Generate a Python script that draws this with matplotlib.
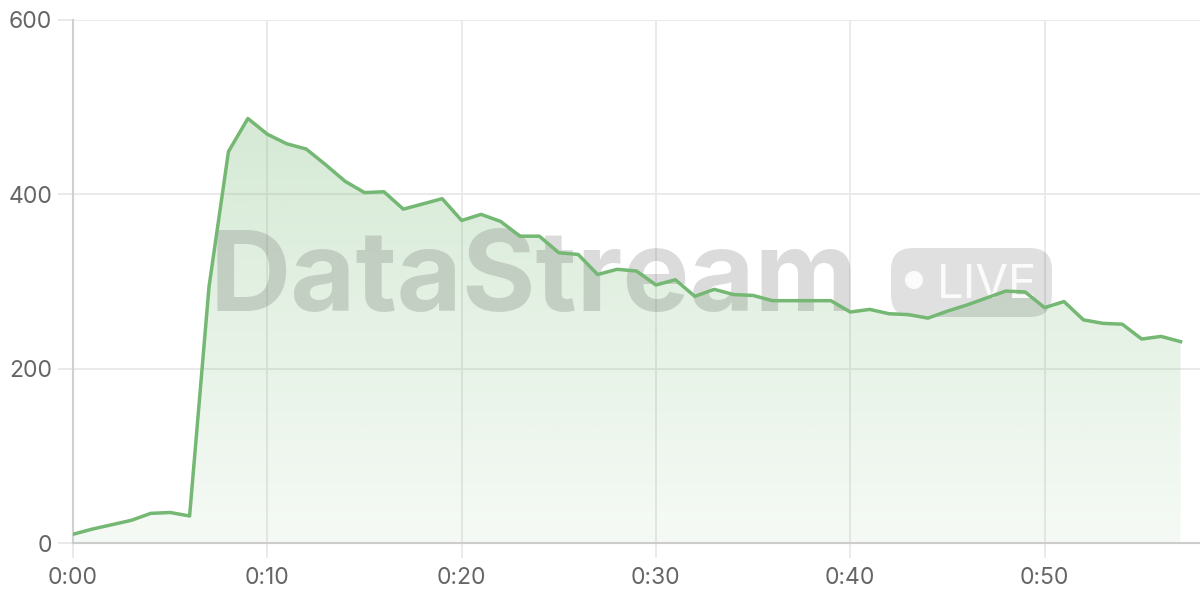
import matplotlib
matplotlib.use("Agg")
import matplotlib.pyplot as plt
import numpy as np
from matplotlib.patches import FancyBboxPatch, Circle
from matplotlib.transforms import IdentityTransform
from matplotlib.colors import to_rgb

minutes = list(range(0, 58))
values = [10, 16, 21, 26, 34, 35, 31, 294, 449, 487,
          469, 458, 452, 434, 415, 402, 403, 383, 389, 395,
          370, 377, 369, 352, 352, 333, 331, 308, 314, 312,
          296, 302, 283, 291, 285, 284, 278, 278, 278, 278,
          265, 268, 263, 262, 258, 266, 273, 281, 289, 288,
          270, 277, 256, 252, 251, 234, 237, 231]
x_ticks = [0, 10, 20, 30, 40, 50]
x_tick_labels = ["0:00", "0:10", "0:20", "0:30", "0:40", "0:50"]
y_ticks = [0, 200, 400, 600]
y_tick_labels = ["0", "200", "400", "600"]
watermark = "DataStream"
badge = "LIVE"

LINE = "#74b874"
FONT = ["Inter", "DejaVu Sans"]
W, H = 1200, 600
fig = plt.figure(figsize=(12, 6), dpi=100)
ax = fig.add_axes([73 / W, 57 / H, 1 - 73 / W, (543 - 20) / H])

x = np.array(minutes, dtype=float)
y = np.array(values, dtype=float)

ax.set_xlim(0, 58)
ax.set_ylim(0, 600)

# gradient fill
poly = ax.fill_between(x, y, 0, facecolor="none", edgecolor="none", zorder=2)
ymax = y.max()
n = 256
alphas = np.linspace(0.07, 0.30, n)[:, None]
rgb = np.array(to_rgb(LINE))
img = np.zeros((n, 1, 4))
img[:, :, :3] = rgb
img[:, :, 3] = alphas
im = ax.imshow(img, extent=[x.min(), x.max(), 0, ymax], origin="lower",
               aspect="auto", zorder=2, interpolation="bilinear")
path = poly.get_paths()[0]
im.set_clip_path(path, transform=ax.transData)

ax.plot(x, y, color=LINE, lw=2.5, zorder=6, solid_joinstyle="round")

ax.set_xticks(x_ticks)
ax.set_xticklabels(x_tick_labels)
ax.set_yticks(y_ticks)
ax.set_yticklabels(y_tick_labels)
ax.grid(True, color="#e8e8e8", lw=1.3, zorder=0)
ax.set_axisbelow(True)
ax.tick_params(axis="both", colors="#e8e8e8", width=1.3, length=10.5,
               labelcolor="#666666", labelsize=16.5)
ax.tick_params(axis="y", pad=4.5)
ax.tick_params(axis="x", pad=6.5)
for lab in ax.get_xticklabels() + ax.get_yticklabels():
    lab.set_family(FONT)
for s in ["top", "right"]:
    ax.spines[s].set_visible(False)
ax.spines["left"].set_color("#d0d0d0")
ax.spines["bottom"].set_color("#cccccc")
ax.spines["left"].set_linewidth(1.5)
ax.spines["bottom"].set_linewidth(1.5)

# watermark (pixel coordinates, origin bottom-left), below the line
ax.text(210 / W, 1 - 311 / H, watermark, fontsize=81, fontweight="bold",
        family=FONT, color="#555555", alpha=0.21,
        ha="left", va="baseline", zorder=4, transform=fig.transFigure)
rect = FancyBboxPatch((891, H - 317), 161, 69, boxstyle="round,pad=0,rounding_size=22",
                      transform=IdentityTransform(), facecolor="black", alpha=0.12,
                      edgecolor="none", zorder=4)
ax.add_artist(rect)
circ = Circle((914, H - 280), 9, transform=IdentityTransform(), facecolor="white",
              alpha=0.9, edgecolor="none", zorder=4.5)
ax.add_artist(circ)
ax.text(937 / W, 1 - 298 / H, badge, fontsize=34, family=FONT,
        color="white", alpha=0.9, ha="left", va="baseline", zorder=4.5,
        transform=fig.transFigure)

fig.savefig("out.png", dpi=100)
